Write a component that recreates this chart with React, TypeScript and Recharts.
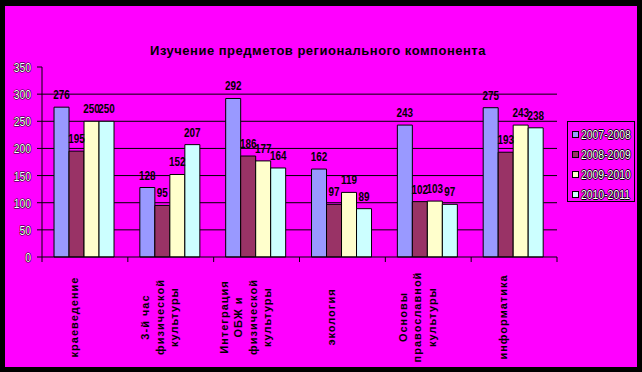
import { BarChart, Bar, XAxis, YAxis, CartesianGrid, Legend, LabelList } from 'recharts';

const categories = [
  'краеведение',
  '3-й час\nфизической\nкультуры',
  'Интеграция\nОБЖ и\nфизической\nкультуры',
  'экология',
  'Основы\nправославной\nкультуры',
  'информатика',
];
const years = ['2007-2008', '2008-2009', '2009-2010', '2010-2011'];
const y2007 = [276, 128, 292, 162, 243, 275];
const y2008 = [195, 95, 186, 97, 102, 193];
const y2009 = [250, 152, 177, 119, 103, 243];
const y2010 = [250, 207, 164, 89, 97, 238];
const yTicks = [0, 50, 100, 150, 200, 250, 300, 350];
const gridValues = [50, 100, 150, 200, 250, 300];
const colors = ['#9999FF', '#993366', '#FFFFCC', '#CCFFFF'];

const series = [y2007, y2008, y2009, y2010];
const data = categories.map((name, i) => {
  const row: any = { name };
  years.forEach((yr, j) => { row[yr] = series[j][i]; });
  return row;
});

const sans = 'Liberation Sans, Arial, sans-serif';

// category labels: rotated, multi-line, plus the boundary tick marks
const CategoryTick = (props: any) => {
  const { x, y, payload, index, visibleTicksCount } = props;
  const half = payload.offset || 43;
  const lines = String(payload.value).split('\n');
  const cy = y + 60;
  return (
    <g>
      <line x1={x - half} x2={x - half} y1={y} y2={y + 5} stroke="#000" />
      {index === visibleTicksCount - 1 && <line x1={x + half} x2={x + half} y1={y} y2={y + 5} stroke="#000" />}
      {lines.map((t, i) => {
        const lx = x - 11 + (i - (lines.length - 1) / 2) * 14.5;
        return (
          <text key={i} x={lx} y={cy} transform={`rotate(-90 ${lx} ${cy})`} textAnchor="middle"
            dominantBaseline="central" fontFamily={sans} fontWeight="bold"
            fontSize={11} letterSpacing={1} fill="#000">
            {t}
          </text>
        );
      })}
    </g>
  );
};

const ValueTick = (props: any) => {
  const { x, y, payload } = props;
  return (
    <text transform={`translate(${x} ${y}) scale(0.8 1)`} x={0} y={0} textAnchor="end" dominantBaseline="central"
      fontFamily={sans} fontSize={13} fill="#fff" stroke="#000" strokeWidth={1.2} paintOrder="stroke">
      {payload.value}
    </text>
  );
};

const BarValue = (props: any) => {
  const { x, y, width, value } = props;
  const cx = x + width / 2;
  return (
    <text transform={`translate(${cx} ${y - 8}) scale(0.76 1)`} x={0} y={0} textAnchor="middle"
      fontFamily={sans} fontWeight="bold" fontSize={13} fill="#000">
      {value}
    </text>
  );
};

const LegendBox = (props: any) => (
  <div style={{ border: '1px solid #000', width: 66, height: 77, paddingTop: 2 }}>
    {(props.payload || []).map((e: any) => (
      <div key={e.value} style={{ display: 'flex', alignItems: 'center', height: 20, paddingLeft: 4, whiteSpace: 'nowrap' }}>
        <span style={{ width: 5, height: 5, border: '1px solid #000', background: e.color, marginRight: 2, flex: 'none' }} />
        <span style={{ fontFamily: sans, fontSize: 13, color: '#fff',
          textShadow: '1px 0 0 #000, -1px 0 0 #000, 0 1px 0 #000, 0 -1px 0 #000',
          display: 'inline-block', transform: 'scaleX(0.8)', transformOrigin: 'left center' }}>{e.value}</span>
      </div>
    ))}
  </div>
);

export default function App() {
  return (
    <div style={{ position: 'absolute', left: 0, top: 0, width: 642, height: 372, background: '#000' }}>
      <div style={{ position: 'absolute', left: 5, top: 6, width: 632, height: 361, background: '#FF00FF', overflow: 'hidden' }}>
        <div style={{ position: 'absolute', left: 0, top: 37, width: 626, textAlign: 'center',
          fontFamily: sans, fontWeight: 'bold', fontSize: 13, letterSpacing: 0.5, color: '#000' }}>
          Изучение предметов регионального компонента
        </div>
        <BarChart width={632} height={361} data={data} margin={{ top: 61, right: 80, left: 0, bottom: 10 }}
          barCategoryGap="14%" barGap={0}>
          <CartesianGrid vertical={false} horizontalValues={gridValues} stroke="#000" />
          <XAxis dataKey="name" height={100} interval={0} tickLine={false} tickSize={0} tickMargin={0}
            axisLine={{ stroke: '#000' }} tick={<CategoryTick />} />
          <YAxis width={37} domain={[0, 350]} ticks={yTicks} interval={0} tickSize={5} tickMargin={6}
            axisLine={{ stroke: '#000' }} tickLine={{ stroke: '#000' }} tick={<ValueTick />} />
          <Legend layout="vertical" align="center" verticalAlign="middle" content={<LegendBox />}
            wrapperStyle={{ left: 562, top: 115, width: 68, height: 81 }} />
          {years.map((yr, j) => (
            <Bar key={yr} dataKey={yr} fill={colors[j]} stroke="#000" strokeWidth={1} isAnimationActive={false}>
              <LabelList dataKey={yr} content={<BarValue />} />
            </Bar>
          ))}
        </BarChart>
      </div>
    </div>
  );
}
